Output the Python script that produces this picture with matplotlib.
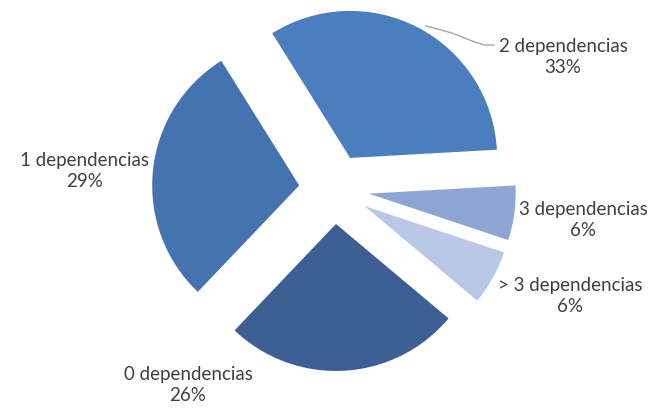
import matplotlib
matplotlib.use("Agg")
import matplotlib.pyplot as plt

# share of components by number of dependencies
categories = ["2 dependencias", "3 dependencias", "> 3 dependencias",
              "0 dependencias", "1 dependencias"]
percent = [33, 6, 6, 26, 29]
colors = ["#4a7ebf", "#8ea6d3", "#b8c7e6", "#3c5f94", "#4573b0"]

# label block centres (figure pixels, y up)
label_pos = [(563, 352), (583, 189), (570, 113), (188, 24), (85, 238)]

plt.rcParams["font.family"] = ["Lato", "DejaVu Sans"]

fig = plt.figure(figsize=(6.69, 4.09), dpi=100)
ax = fig.add_axes([0, 0, 1, 1])

ax.pie(percent, colors=colors, startangle=122, counterclock=False,
       radius=147, center=(334, 220), explode=[35] * len(percent),
       wedgeprops=dict(linewidth=0), frame=False)
ax.set_xlim(0, 669)
ax.set_ylim(0, 409)
ax.set_aspect("equal")
ax.axis("off")

for name, pct, (x, y) in zip(categories, percent, label_pos):
    ax.text(x, y, f"{name}\n{pct}%", ha="center", va="center",
            fontsize=13.5, color="#404040", linespacing=1.35)

# leader line for the top slice
ax.plot([426, 452, 472, 484, 494], [383, 376, 368, 364, 364],
        color="#a6a6a6", lw=1)

fig.savefig("out.png", dpi=100, facecolor="white")
